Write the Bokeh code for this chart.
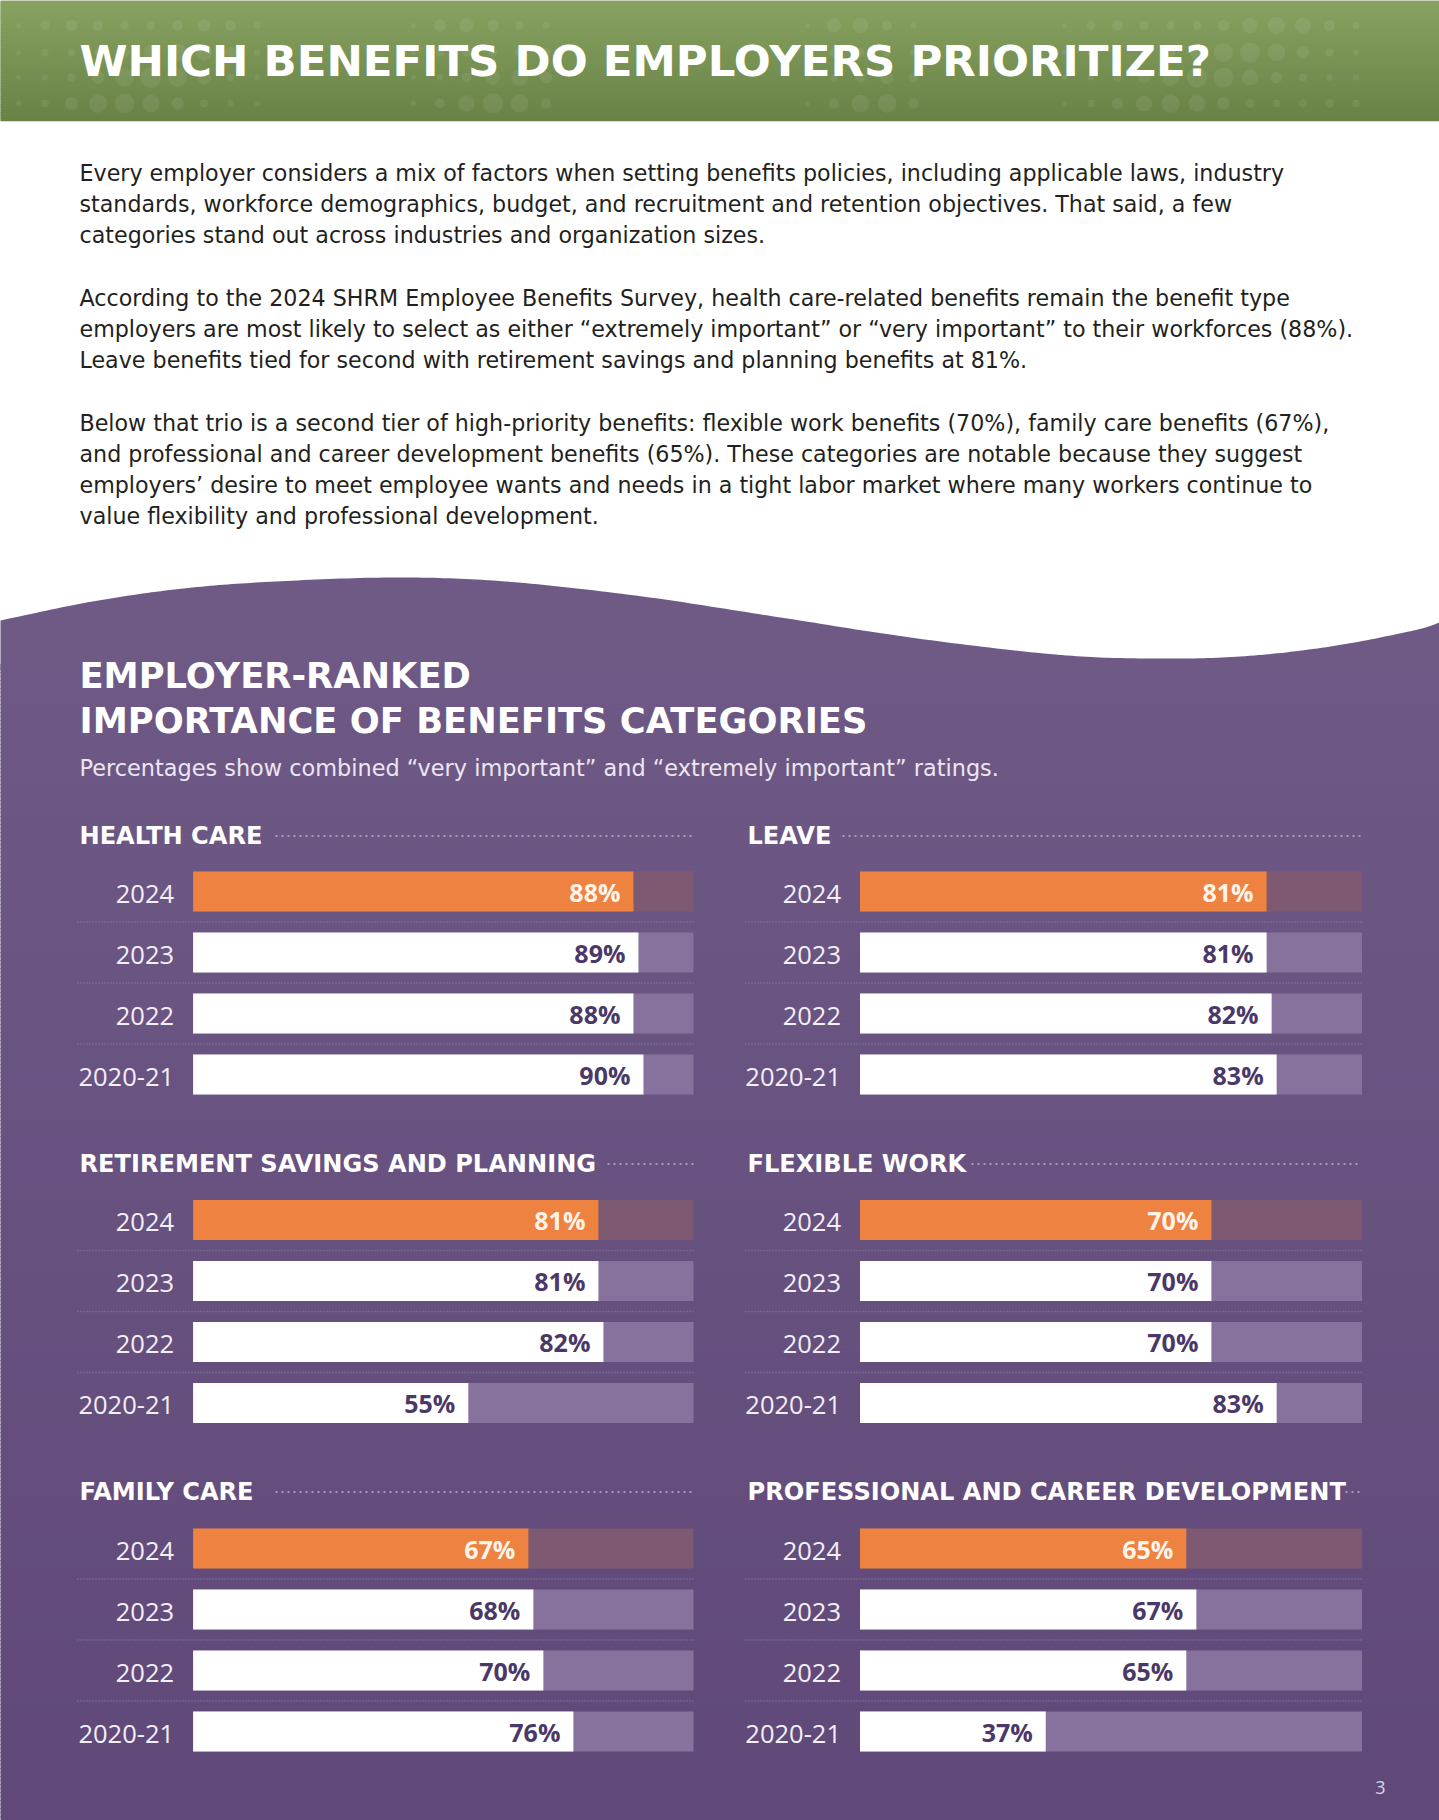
import numpy as np
from bokeh.plotting import figure
from bokeh.models import Range1d, ColumnDataSource
from bokeh.core.properties import value
from bokeh.embed import file_html
from bokeh.resources import INLINE

# ---------------- data ----------------
years = ["2024", "2023", "2022", "2020-21"]
panel_titles = ["HEALTH CARE", "LEAVE", "RETIREMENT SAVINGS AND PLANNING",
                "FLEXIBLE WORK", "FAMILY CARE", "PROFESSIONAL AND CAREER DEVELOPMENT"]
health_care = [88, 89, 88, 90]
leave = [81, 81, 82, 83]
retirement_savings = [81, 81, 82, 55]
flexible_work = [70, 70, 70, 83]
family_care = [67, 68, 70, 76]
professional_development = [65, 67, 65, 37]
panel_values = [health_care, leave, retirement_savings,
                flexible_work, family_care, professional_development]

page_title = "WHICH BENEFITS DO EMPLOYERS PRIORITIZE?"
paragraphs = [
    ["Every employer considers a mix of factors when setting benefits policies, including applicable laws, industry",
     "standards, workforce demographics, budget, and recruitment and retention objectives. That said, a few",
     "categories stand out across industries and organization sizes."],
    ["According to the 2024 SHRM Employee Benefits Survey, health care-related benefits remain the benefit type",
     "employers are most likely to select as either \u201cextremely important\u201d or \u201cvery important\u201d to their workforces (88%).",
     "Leave benefits tied for second with retirement savings and planning benefits at 81%."],
    ["Below that trio is a second tier of high-priority benefits: flexible work benefits (70%), family care benefits (67%),",
     "and professional and career development benefits (65%). These categories are notable because they suggest",
     "employers\u2019 desire to meet employee wants and needs in a tight labor market where many workers continue to",
     "value flexibility and professional development."],
]
chart_title = ["EMPLOYER-RANKED", "IMPORTANCE OF BENEFITS CATEGORIES"]
chart_subtitle = "Percentages show combined \u201cvery important\u201d and \u201cextremely important\u201d ratings."
page_number = "3"

# ---------------- page geometry (pixel space, y downwards) ----------------
X0, X1, Y0, Y1 = 0, 1439, 0, 1820
p = figure(width=X1 - X0, height=Y1 - Y0,
           x_range=Range1d(X0, X1), y_range=Range1d(Y1, Y0),
           x_axis_type=None, y_axis_type=None,
           output_backend="svg", toolbar_location=None, min_border=0)
p.grid.visible = False
p.outline_line_color = None
p.background_fill_color = "white"
p.border_fill_color = "white"


def lerp_colors(c_top, c_bot, n):
    a = np.array([int(c_top[i:i + 2], 16) for i in (1, 3, 5)], float)
    b = np.array([int(c_bot[i:i + 2], 16) for i in (1, 3, 5)], float)
    out = []
    for t in np.linspace(0, 1, n):
        c = np.round(a * (1 - t) + b * t).astype(int)
        out.append("#%02x%02x%02x" % tuple(c))
    return out


# ---- green header with gradient ----
hy = np.arange(0, 120, 2.0)
hcols = lerp_colors("#88a262", "#698247", len(hy))
p.quad(left=-5, right=1444, top=hy, bottom=hy + 2.6, fill_color=hcols,
       line_color=hcols, line_width=0.5)

# soft dot pattern on header (decoration)
dx, dy, dr = [], [], []
clusters = [(18, 266), (413, 569), (807, 927), (1064, 1376)]
rows_y = [25, 52, 77, 103]
for (a, b) in clusters:
    xs = np.arange(a, b, 26.5)
    for j, x in enumerate(xs):
        t = (x - a) / max(b - a, 1)
        for k, yy in enumerate(rows_y):
            r = 2.5 + 8.0 * np.sin(np.pi * t) * (0.6 + 0.4 * np.cos(k * 1.3 + j * 0.7))
            dx.append(x); dy.append(yy); dr.append(abs(r))
p.circle(x=dx, y=dy, radius=dr, fill_color="white", fill_alpha=0.07, line_color=None)

p.text(x=[79], y=[60], text=[page_title], text_font=value("DejaVu Sans"),
       text_font_style="bold", text_font_size="43.5px", text_color="white",
       text_baseline="middle", text_align="left")

# ---- intro paragraphs ----
line_pitch = 31.2
para_starts = [172.5, 297.5, 422.0]
tx, ty, tt = [], [], []
for start, lines in zip(para_starts, paragraphs):
    for i, line in enumerate(lines):
        tx.append(79); ty.append(start + i * line_pitch); tt.append(line)
p.text(x=tx, y=ty, text=tt, text_font=value("DejaVu Sans"), text_font_size="22.2px",
       text_color="#231f20", text_baseline="middle", text_align="left")

# ---- purple area: wave-topped patch, then gradient strips below the wave ----
ctrl_x = np.array([0, 92, 183, 275, 395, 505, 642, 780, 917, 1055, 1147, 1240, 1330, 1413, 1439], float)
ctrl_y = np.array([620, 601, 588, 581, 577, 581, 596, 617, 638, 654, 658, 656, 646, 630, 622], float)


def catmull(xc, yc, n=20):
    P = np.stack([xc, yc], 1)
    P = np.vstack([P[0], P, P[-1]])
    out = []
    for i in range(1, len(P) - 2):
        p0, p1, p2, p3 = P[i - 1], P[i], P[i + 1], P[i + 2]
        for t in np.linspace(0, 1, n, endpoint=False):
            out.append(0.5 * ((2 * p1) + (-p0 + p2) * t + (2 * p0 - 5 * p1 + 4 * p2 - p3) * t ** 2
                              + (-p0 + 3 * p1 - 3 * p2 + p3) * t ** 3))
    out.append(P[-2])
    return np.array(out)


wave = catmull(ctrl_x, ctrl_y)
py = np.arange(664, 1820, 4.0)
pcols = lerp_colors("#6e5985", "#604979", len(py))
wx = [-8, -8] + list(wave[:, 0]) + [1447, 1447]
wy = [670, ctrl_y[0]] + list(wave[:, 1]) + [ctrl_y[-1], 670]
p.patch(x=wx, y=wy, fill_color="#6f5a86", line_color=None)
p.quad(left=-5, right=1444, top=py, bottom=py + 4.6, fill_color=pcols,
       line_color=pcols, line_width=0.5)

# ---- chart titles ----
p.text(x=[79, 79], y=[675, 719.5], text=chart_title, text_font=value("DejaVu Sans"),
       text_font_style="bold", text_font_size="35.3px", text_color="white",
       text_baseline="middle", text_align="left")
p.text(x=[79], y=[767], text=[chart_subtitle], text_font=value("DejaVu Sans"),
       text_font_size="22.4px", text_color="#ece6f2", text_baseline="middle", text_align="left")
p.text(x=[1380], y=[1787], text=[page_number], text_font=value("Open Sans"),
       text_font_size="18px", text_color="#ddd4e6", text_baseline="middle", text_align="center")

# ---- panels ----
col_px0 = [192.6, 859.5]      # pixel position of 0%
col_px100 = [693.0, 1361.5]   # pixel position of 100%
col_left = [79, 747]
col_sep = [(77, 695), (745, 1361)]
row_bar0 = [891.0, 1219.5, 1548.0]
row_title = [835.5, 1163.5, 1491.5]
pitch = 61.0
dot_start = [275, 842, 607, 971, 275, 1345]

for c in range(2):
    s = (col_px100[c] - col_px0[c]) / 100.0
    p.extra_x_ranges["col%d" % c] = Range1d((X0 - col_px0[c]) / s, (X1 - col_px0[c]) / s)
for r in range(3):
    p.extra_y_ranges["row%d" % r] = Range1d((Y1 - row_bar0[r]) / pitch, (Y0 - row_bar0[r]) / pitch)

for k, (name, vals) in enumerate(zip(panel_titles, panel_values)):
    r, c = divmod(k, 2)
    xr, yr = "col%d" % c, "row%d" % r
    idx = list(range(len(years)))
    src = ColumnDataSource(dict(
        idx=idx, year=years, v=vals, label=["%d%%" % v for v in vals],
        bar_color=["#ee8240"] + ["#ffffff"] * (len(years) - 1),
        track_color=["#7e5a72"] + ["#86729c"] * (len(years) - 1),
        label_color=["#fff4ea"] + ["#4a3868"] * (len(years) - 1),
    ))
    # title + dotted leader
    p.text(x=[col_left[c]], y=[row_title[r]], text=[name], text_font=value("DejaVu Sans"),
           text_font_style="bold", text_font_size="24.1px", text_color="white",
           text_baseline="middle", text_align="left")
    p.segment(x0=[dot_start[k]], x1=[col_sep[c][1]], y0=[row_title[r]], y1=[row_title[r]],
              line_color="#a898bc", line_width=2, line_dash="2 4")
    # separators between rows
    p.segment(x0=[col_sep[c][0]] * 3, x1=[col_sep[c][1]] * 3,
              y0=[i + 0.5 for i in idx[:-1]], y1=[i + 0.5 for i in idx[:-1]],
              line_color="#8a789f", line_width=1.5, line_dash="1 2", y_range_name=yr)
    # track and bar
    p.hbar(y="idx", left=0, right=100, height=40 / pitch, fill_color="track_color",
           line_color=None, source=src, x_range_name=xr, y_range_name=yr)
    p.hbar(y="idx", left=0, right="v", height=40 / pitch, fill_color="bar_color",
           line_color=None, source=src, x_range_name=xr, y_range_name=yr)
    # labels
    p.text(x="v", y="idx", text="label", x_offset=-13, text_align="right",
           text_baseline="middle", text_font=value("Open Sans"), text_font_style="bold",
           text_font_size="25px", text_color="label_color", source=src,
           x_range_name=xr, y_range_name=yr)
    p.text(x=0, y="idx", text="year", x_offset=-19, y_offset=2, text_align="right",
           text_baseline="middle", text_font=value("Open Sans"), text_font_size="25.5px",
           text_color="#f3eff7", source=src, x_range_name=xr, y_range_name=yr)

open("out.html", "w").write(file_html(p, INLINE))
